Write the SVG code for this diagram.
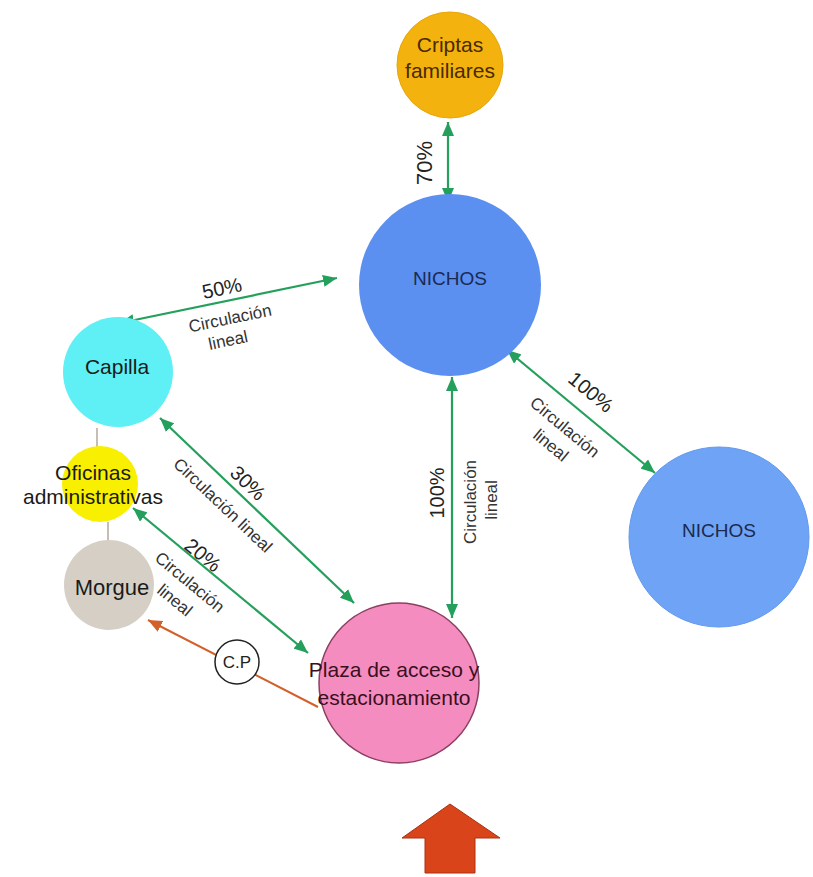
<svg xmlns="http://www.w3.org/2000/svg" width="813" height="877" viewBox="0 0 813 877">
<style>
text{font-family:"Liberation Sans",Arial,sans-serif;}
.n{font-size:21px;text-anchor:middle;fill:#1a1a1a;}
.p{font-size:20px;text-anchor:middle;fill:#222;}
.c{font-size:17px;text-anchor:middle;fill:#333;}
.g{stroke:#25a05c;stroke-width:2.2;fill:none;marker-start:url(#ah);marker-end:url(#ah);}
.thin{stroke:#a89a8a;stroke-width:1.3;}
</style>
<defs>
<marker id="ah" viewBox="0 0 14 12" refX="14" refY="6" markerWidth="14" markerHeight="12" markerUnits="userSpaceOnUse" orient="auto-start-reverse">
<path d="M0,0 L14,6 L0,12 z" fill="#25a05c"/>
</marker>
<marker id="oh" viewBox="0 0 14 12" refX="14" refY="6" markerWidth="14" markerHeight="12" markerUnits="userSpaceOnUse" orient="auto">
<path d="M0,0 L14,6 L0,12 z" fill="#d2602a"/>
</marker>
</defs>
<rect width="813" height="877" fill="#ffffff"/>
<g id="connectors">
<line class="thin" x1="97" y1="428" x2="97" y2="447"/>
<line class="thin" x1="108" y1="522" x2="108" y2="542"/>
<line class="g" x1="448" y1="122" x2="448" y2="202"/>
<line class="g" x1="337" y1="278" x2="120" y2="323"/>
<line class="g" x1="507" y1="350" x2="655" y2="473"/>
<line class="g" x1="452" y1="377" x2="452" y2="618"/>
<line class="g" x1="160" y1="418" x2="354" y2="603"/>
<line class="g" x1="133" y1="508" x2="308" y2="653"/>
<line x1="318" y1="707" x2="148" y2="620" stroke="#d2602a" stroke-width="2" marker-end="url(#oh)"/>
<text class="p" transform="translate(425,163) rotate(-90)" dy="7" style="font-size:22px">70%</text>
<text class="p" transform="translate(222,288) rotate(-11.7)" dy="7">50%</text>
<text class="c" transform="translate(230,318) rotate(-11.7)" dy="6">Circulación</text>
<text class="c" transform="translate(228,340) rotate(-11.7)" dy="6">lineal</text>
<text class="p" transform="translate(591,392) rotate(39.7)" dy="7">100%</text>
<text class="c" transform="translate(565,427) rotate(39.7)" dy="6">Circulación</text>
<text class="c" transform="translate(551,445) rotate(39.7)" dy="6">lineal</text>
<text class="p" transform="translate(437,493) rotate(-90)" dy="7">100%</text>
<text class="c" transform="translate(470,502) rotate(-90)" dy="6">Circulación</text>
<text class="c" transform="translate(491,500) rotate(-90)" dy="6">lineal</text>
<text class="p" transform="translate(248,483) rotate(43.5)" dy="7">30%</text>
<text class="c" transform="translate(223,505) rotate(43.5)" dy="6">Circulación lineal</text>
<text class="p" transform="translate(203,555) rotate(39.6)" dy="7">20%</text>
<text class="c" transform="translate(190,582) rotate(39.6)" dy="6">Circulación</text>
<text class="c" transform="translate(175,600) rotate(39.6)" dy="6">lineal</text>
</g>
<g id="cp">
<circle cx="237" cy="662" r="22" fill="#ffffff" stroke="#222" stroke-width="1.5"/>
<text x="237" y="668" style="font-size:17px;text-anchor:middle;fill:#222">C.P</text>
</g>
<g id="criptas">
<circle cx="450" cy="65" r="53" fill="#f4b20e" stroke="#e8a608" stroke-width="1"/>
<text class="n" x="450" y="52" fill="#4a2a00" style="fill:#4a2a00">Criptas</text>
<text class="n" x="450" y="78" style="fill:#4a2a00">familiares</text>
</g>
<g id="nichos1">
<circle cx="450" cy="285" r="91" fill="#5b8ff0"/>
<text class="n" x="450" y="285" style="fill:#1a2a50;font-size:19px">NICHOS</text>
</g>
<g id="nichos2">
<circle cx="719" cy="537" r="90" fill="#6fa3f6" stroke="#6399ee" stroke-width="1"/>
<text class="n" x="719" y="537" style="fill:#1a2a50;font-size:19px">NICHOS</text>
</g>
<g id="capilla">
<circle cx="118" cy="372" r="55" fill="#5ef0f5"/>
<text class="n" x="117" y="374">Capilla</text>
</g>
<g id="oficinas">
<circle cx="100" cy="484" r="38" fill="#f8f000"/>
<text class="n" x="93" y="480">Oficinas</text>
<text class="n" x="93" y="504">administrativas</text>
</g>
<g id="morgue">
<circle cx="109" cy="585" r="45" fill="#d6cfc6"/>
<text class="n" x="112" y="595" style="font-size:22px">Morgue</text>
</g>
<g id="plaza">
<circle cx="399" cy="683" r="80" fill="#f58cc0" stroke="#8c4060" stroke-width="1.5"/>
<text class="n" x="394" y="677" style="fill:#3a1020">Plaza de acceso y</text>
<text class="n" x="394" y="705" style="fill:#3a1020">estacionamiento</text>
</g>
<g id="entrada">
<path d="M450,804 L500,838 L475,838 L475,873 L425,873 L425,838 L402,838 Z" fill="#da441a" stroke="#a83210" stroke-width="1"/>
</g>
</svg>
